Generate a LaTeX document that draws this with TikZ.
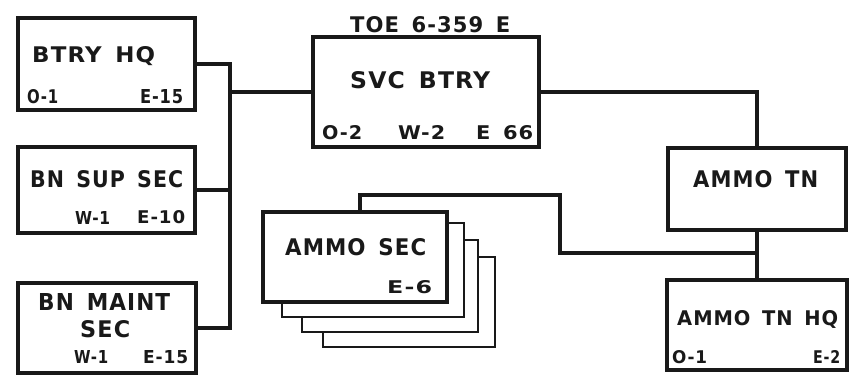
\documentclass[tikz,border=0pt]{standalone}
\usepackage{fontspec}
\usepackage{graphicx}
\newfontfamily\lett[LetterSpace=5,WordSpace=1.5]{DejaVu Sans Bold}
\newcommand\fitt[3]{\resizebox{#1pt}{#2pt}{\lett #3}}
\begin{document}
\begin{tikzpicture}[x=1pt,y=-1pt,
  box/.style={draw=black!90, line width=3.2pt, fill=white, inner sep=0, rectangle},
  back/.style={draw=black!90, line width=2.4pt, fill=white, inner sep=0, rectangle},
  conn/.style={draw=black!90, line width=3.2pt},
  lbl/.style={inner sep=0, text=black!90, anchor=base west}]
\useasboundingbox (0,0) rectangle (851,382);
\fill[white] (0,0) rectangle (851,382);
% boxes
\node[box, minimum width=177pt, minimum height=92pt] (hq) at (106.5,64) {};
\node[box, minimum width=177pt, minimum height=86pt] (sup) at (106.5,190) {};
\node[box, minimum width=178pt, minimum height=90pt] (maint) at (107,328) {};
\node[box, minimum width=226pt, minimum height=110pt] (svc) at (426,92) {};
\node[box, minimum width=178pt, minimum height=82pt] (tn) at (757,189) {};
\node[box, minimum width=180pt, minimum height=90pt] (tnhq) at (757,325) {};
\node[back, minimum width=172pt, minimum height=90pt] (s4) at (409,302) {};
\node[back, minimum width=176pt, minimum height=92pt] (s3) at (390,286) {};
\node[back, minimum width=182pt, minimum height=94pt] (s2) at (373,270) {};
\node[box, minimum width=184pt, minimum height=90pt] (ammo) at (355,257) {};
% connectors
\coordinate (bus) at (230,0);
\coordinate (a1) at (360,195);
\coordinate (j) at (560,253);
\draw[conn] (hq.east) -| (bus |- maint.east) -- (maint.east);
\draw[conn] (sup.east) -- (sup.east -| bus);
\draw[conn] (bus |- svc.west) -- (svc.west);
\draw[conn] (svc.east) -| (tn.north);
\draw[conn] (tn.south) -- (tnhq.north);
\draw[conn] (a1 |- ammo.north) -- (a1) -| (j) -- (j -| tn.south);
% texts
\node[lbl] (t1) at (32,63) {\fitt{123}{16}{BTRY HQ}};
\node[lbl] (t2) at (27,104) {\fitt{31}{14}{O-1}};
\node[lbl] (t3) at (140,104) {\fitt{43}{14}{E-15}};
\node[lbl] (t4) at (30,187) {\fitt{153}{17}{BN SUP SEC}};
\node[lbl] (t5) at (75,224) {\fitt{35}{13}{W-1}};
\node[lbl] (t6) at (137,224) {\fitt{48}{13}{E-10}};
\node[lbl] (t7) at (38,310) {\fitt{132}{17}{BN MAINT}};
\node[lbl] (t8) at (80,337) {\fitt{50}{17}{SEC}};
\node[lbl] (t9) at (74,363) {\fitt{34}{13}{W-1}};
\node[lbl] (t10) at (143,363) {\fitt{45}{13}{E-15}};
\node[lbl] (t11) at (350,33) {\fitt{160}{16}{TOE 6-359 E}};
\node[lbl] (t12) at (350,89) {\fitt{140}{17}{SVC BTRY}};
\node[lbl] (t13) at (322,140) {\fitt{40}{14}{O-2}};
\node[lbl] (t14) at (398,140) {\fitt{47}{14}{W-2}};
\node[lbl] (t15) at (476,140) {\fitt{57}{14}{E 66}};
\node[lbl] (t16) at (693,188) {\fitt{125}{17}{AMMO TN}};
\node[lbl] (t17) at (677,325) {\fitt{161}{15}{AMMO TN HQ}};
\node[lbl] (t18) at (672,363) {\fitt{35}{13}{O-1}};
\node[lbl] (t19) at (813,363) {\fitt{27}{13}{E-2}};
\node[lbl] (t20) at (285,255) {\fitt{141}{17}{AMMO SEC}};
\node[lbl] (t21) at (387,293) {\fitt{45}{13}{E-6}};
\end{tikzpicture}
\end{document}
